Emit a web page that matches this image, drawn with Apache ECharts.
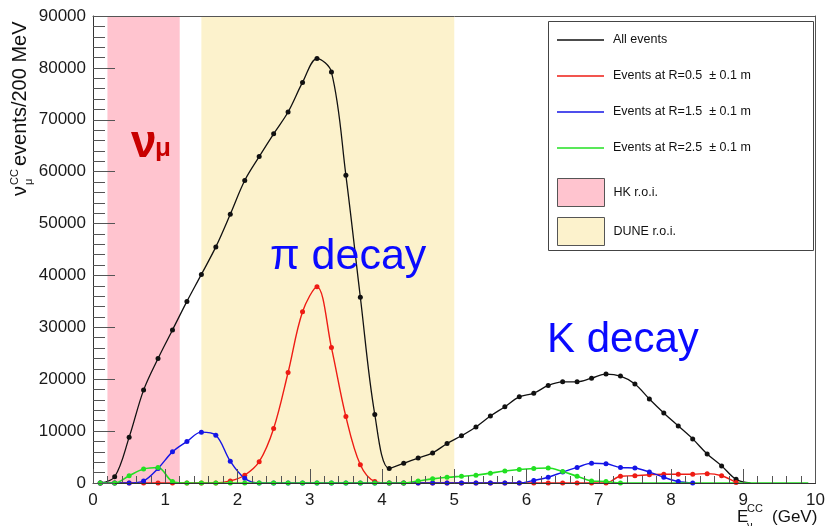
<!DOCTYPE html>
<html>
<head>
<meta charset="utf-8">
<script src="https://cdn.jsdelivr.net/npm/echarts@6/dist/echarts.min.js"></script>
<style>
html,body{margin:0;padding:0;background:#fff;}
#c{width:828px;height:526px;}
</style>
</head>
<body>
<div id="c"></div>
<script>
// Bin centres (200 MeV bins), GeV
const binCentres = [0.1,0.3,0.5,0.7,0.9,1.1,1.3,1.5,1.7,1.9,
                    2.1,2.3,2.5,2.7,2.9,3.1,3.3,3.5,3.7,3.9,
                    4.1,4.3,4.5,4.7,4.9,5.1,5.3,5.5,5.7,5.9,
                    6.1,6.3,6.5,6.7,6.9,7.1,7.3,7.5,7.7,7.9,
                    8.1,8.3,8.5,8.7,8.9,9.1,9.3,9.5,9.7,9.9];

// All events
const allEvents = [0,1200,8800,17900,24000,29500,35000,40200,45500,51800,
                   58300,62900,67300,71500,77200,81800,79200,59300,35800,13200,
                   2800,3800,4800,5800,7600,9100,10800,12900,14700,16600,
                   17300,18800,19500,19500,20200,21000,20600,19100,16200,13500,
                   11000,8500,5600,3300,700,0,null,null,null,null];
// Events at R=0.5 ± 0.1 m
const eventsR05 = [0,0,0,0,0,0,0,0,0,400,
                   1500,4100,10500,21300,33000,37800,26100,12800,3500,300,
                   0,0,0,0,0,0,0,0,0,0,
                   0,0,0,0,0,0,1300,1400,1600,1700,
                   1700,1700,1800,1400,100,null,null,null,null,null];
// Events at R=1.5 ± 0.1 m
const eventsR15 = [0,0,0,400,2800,6000,8000,9800,9200,4200,
                   900,0,0,0,0,0,0,0,0,0,
                   0,0,0,0,0,0,0,0,0,0,
                   500,1100,2100,3000,3800,3700,3000,2900,2100,1100,
                   300,0,null,null,null,null,null,null,null,null];
// Events at R=2.5 ± 0.1 m
const eventsR25 = [0,0,1400,2700,3000,300,0,0,0,0,
                   0,0,0,0,0,0,0,0,0,0,
                   0,0,400,800,1100,1300,1500,1900,2300,2600,
                   2800,2900,2200,1300,400,300,0,0,0,0,
                   0,0,0,0,0,0,0,0,0,0];

// Regions of interest (GeV)
const hkRoi = [0.2, 1.2];
const duneRoi = [1.5, 5.0];

const seriesNames = ['All events','Events at R=0.5  \u00b1 0.1 m','Events at R=1.5  \u00b1 0.1 m','Events at R=2.5  \u00b1 0.1 m'];
const roiNames = ['HK r.o.i.','DUNE r.o.i.'];
const xTitle = '(GeV)';
const yTitle = 'events/200 MeV';

const FONT = '"Liberation Sans", Arial, Helvetica, sans-serif';

function pts(vals, lastMarker) {
  const out = [];
  vals.forEach(function (v, i) {
    if (v === null) return;
    const x = binCentres[i];
    if (x > lastMarker + 1e-9) out.push({value: [x, v], symbol: 'none'});
    else out.push([x, v]);
  });
  return out;
}

function lineSeries(name, vals, color, width, lastMarker) {
  return {
    name: name, type: 'line', data: pts(vals, lastMarker),
    smooth: 0.35, symbol: 'circle', symbolSize: 5, showSymbol: true,
    lineStyle: {color: color, width: width},
    itemStyle: {color: color},
    z: 3
  };
}

const PINK = '#ffc4cf';
const YELLOW = '#fcf2cc';

const chart = echarts.init(document.getElementById('c'), null, {renderer: 'canvas'});

const tickStyle = {color: '#555', width: 1};

chart.setOption({
  animation: false,
  backgroundColor: '#fff',
  grid: {left: 93, right: 8, top: 16, bottom: 43, containLabel: false},
  xAxis: [{
    type: 'value', min: 0, max: 10, interval: 1, position: 'bottom',
    axisLine: {show: true, onZero: false, lineStyle: {color: '#333', width: 1}},
    axisTick: {show: true, inside: true, length: 14, lineStyle: tickStyle},
    minorTick: {show: true, splitNumber: 5, length: 7, lineStyle: tickStyle},
    splitLine: {show: false},
    axisLabel: {color: '#1a1a1a', fontSize: 17, fontFamily: FONT, margin: 9,
      formatter: function (v) { return String(v); }},
    z: 6
  }, {
    type: 'value', min: 0, max: 10, position: 'top',
    axisLine: {show: true, onZero: false, lineStyle: {color: '#555', width: 1}},
    axisTick: {show: false}, axisLabel: {show: false}, splitLine: {show: false},
    z: 6
  }],
  yAxis: [{
    type: 'value', min: 0, max: 90000, interval: 10000, position: 'left',
    axisLine: {show: true, onZero: false, lineStyle: {color: '#333', width: 1}},
    axisTick: {show: true, inside: true, length: 22, lineStyle: tickStyle},
    minorTick: {show: true, splitNumber: 5, length: 12, lineStyle: tickStyle},
    splitLine: {show: false},
    axisLabel: {color: '#1a1a1a', fontSize: 17, fontFamily: FONT, margin: 7,
      formatter: function (v) { return String(v); }},
    z: 6
  }, {
    type: 'value', min: 0, max: 90000, position: 'right',
    axisLine: {show: true, onZero: false, lineStyle: {color: '#555', width: 1}},
    axisTick: {show: false}, axisLabel: {show: false}, splitLine: {show: false},
    z: 6
  }],
  legend: [{
    data: seriesNames, orient: 'vertical', left: 557, top: 33.5, padding: 0,
    icon: 'rect', itemWidth: 47, itemHeight: 1.5, itemGap: 23,
    textStyle: {fontSize: 12.5, fontFamily: FONT, color: '#111', padding: [0, 0, 0, 4]},
    selectedMode: false, z: 5
  }, {
    data: roiNames, orient: 'vertical', left: 557, top: 178, padding: 0,
    icon: 'rect', itemWidth: 47, itemHeight: 28, itemGap: 10,
    itemStyle: {borderColor: '#555', borderWidth: 1},
    textStyle: {fontSize: 12.5, fontFamily: FONT, color: '#111', padding: [0, 0, 0, 4]},
    selectedMode: false, z: 5
  }],
  series: [{
    name: roiNames[0], type: 'line', data: [], itemStyle: {color: PINK}, z: 1,
    markArea: {silent: true, itemStyle: {color: PINK, opacity: 1},
      data: [[{xAxis: hkRoi[0]}, {xAxis: hkRoi[1]}]]}
  }, {
    name: roiNames[1], type: 'line', data: [], itemStyle: {color: YELLOW}, z: 1,
    markArea: {silent: true, itemStyle: {color: YELLOW, opacity: 1},
      data: [[{xAxis: duneRoi[0]}, {xAxis: duneRoi[1]}]]}
  },
    lineSeries(seriesNames[0], allEvents, '#111111', 1.3, 8.95),
    lineSeries(seriesNames[1], eventsR05, '#ee1c14', 1.4, 8.95),
    lineSeries(seriesNames[2], eventsR15, '#1515e6', 1.4, 8.95),
    lineSeries(seriesNames[3], eventsR25, '#22e022', 1.6, 7.35)
  ],
  graphic: {elements: [
    {type: 'rect', z: 4, silent: true,
      shape: {x: 548.5, y: 21.5, width: 265, height: 229},
      style: {fill: '#fff', stroke: '#444', lineWidth: 1}},
    // nu_mu label
    {type: 'text', z: 5, x: 131, y: 144, style: {text: '\u03bd', fill: '#c80000', font: 'bold 46px ' + FONT, align: 'left', verticalAlign: 'middle'}},
    {type: 'text', z: 5, x: 155, y: 149, style: {text: '\u03bc', fill: '#c80000', font: 'bold 26px ' + FONT, align: 'left', verticalAlign: 'middle'}},
    // decay labels
    {type: 'text', z: 5, x: 270, y: 257, style: {text: '\u03c0 decay', fill: '#0a0aff', font: '43px ' + FONT, align: 'left', verticalAlign: 'middle'}},
    {type: 'text', z: 5, x: 547, y: 340, style: {text: 'K decay', fill: '#0a0aff', font: '42px ' + FONT, align: 'left', verticalAlign: 'middle'}},
    // y-axis title (rotated)
    {type: 'text', z: 5, x: 20, y: 196, rotation: Math.PI / 2, style: {text: '\u03bd', fill: '#111', font: '20px ' + FONT, align: 'left', verticalAlign: 'middle'}},
    {type: 'text', z: 5, x: 15, y: 185, rotation: Math.PI / 2, style: {text: 'CC', fill: '#111', font: '11px ' + FONT, align: 'left', verticalAlign: 'middle'}},
    {type: 'text', z: 5, x: 29, y: 185, rotation: Math.PI / 2, style: {text: '\u03bc', fill: '#111', font: '11px ' + FONT, align: 'left', verticalAlign: 'middle'}},
    {type: 'text', z: 5, x: 20, y: 166, rotation: Math.PI / 2, style: {text: yTitle, fill: '#111', font: '20px ' + FONT, align: 'left', verticalAlign: 'middle'}},
    // x-axis title
    {type: 'text', z: 5, x: 737, y: 517, style: {text: 'E', fill: '#111', font: '17px ' + FONT, align: 'left', verticalAlign: 'middle'}},
    {type: 'text', z: 5, x: 747, y: 509, style: {text: 'CC', fill: '#111', font: '11px ' + FONT, align: 'left', verticalAlign: 'middle'}},
    {type: 'text', z: 5, x: 747, y: 526, style: {text: '\u03bd', fill: '#111', font: '11px ' + FONT, align: 'left', verticalAlign: 'middle'}},
    {type: 'text', z: 5, x: 772, y: 517, style: {text: xTitle, fill: '#111', font: '17px ' + FONT, align: 'left', verticalAlign: 'middle'}}
  ]}
});
</script>
</body>
</html>
